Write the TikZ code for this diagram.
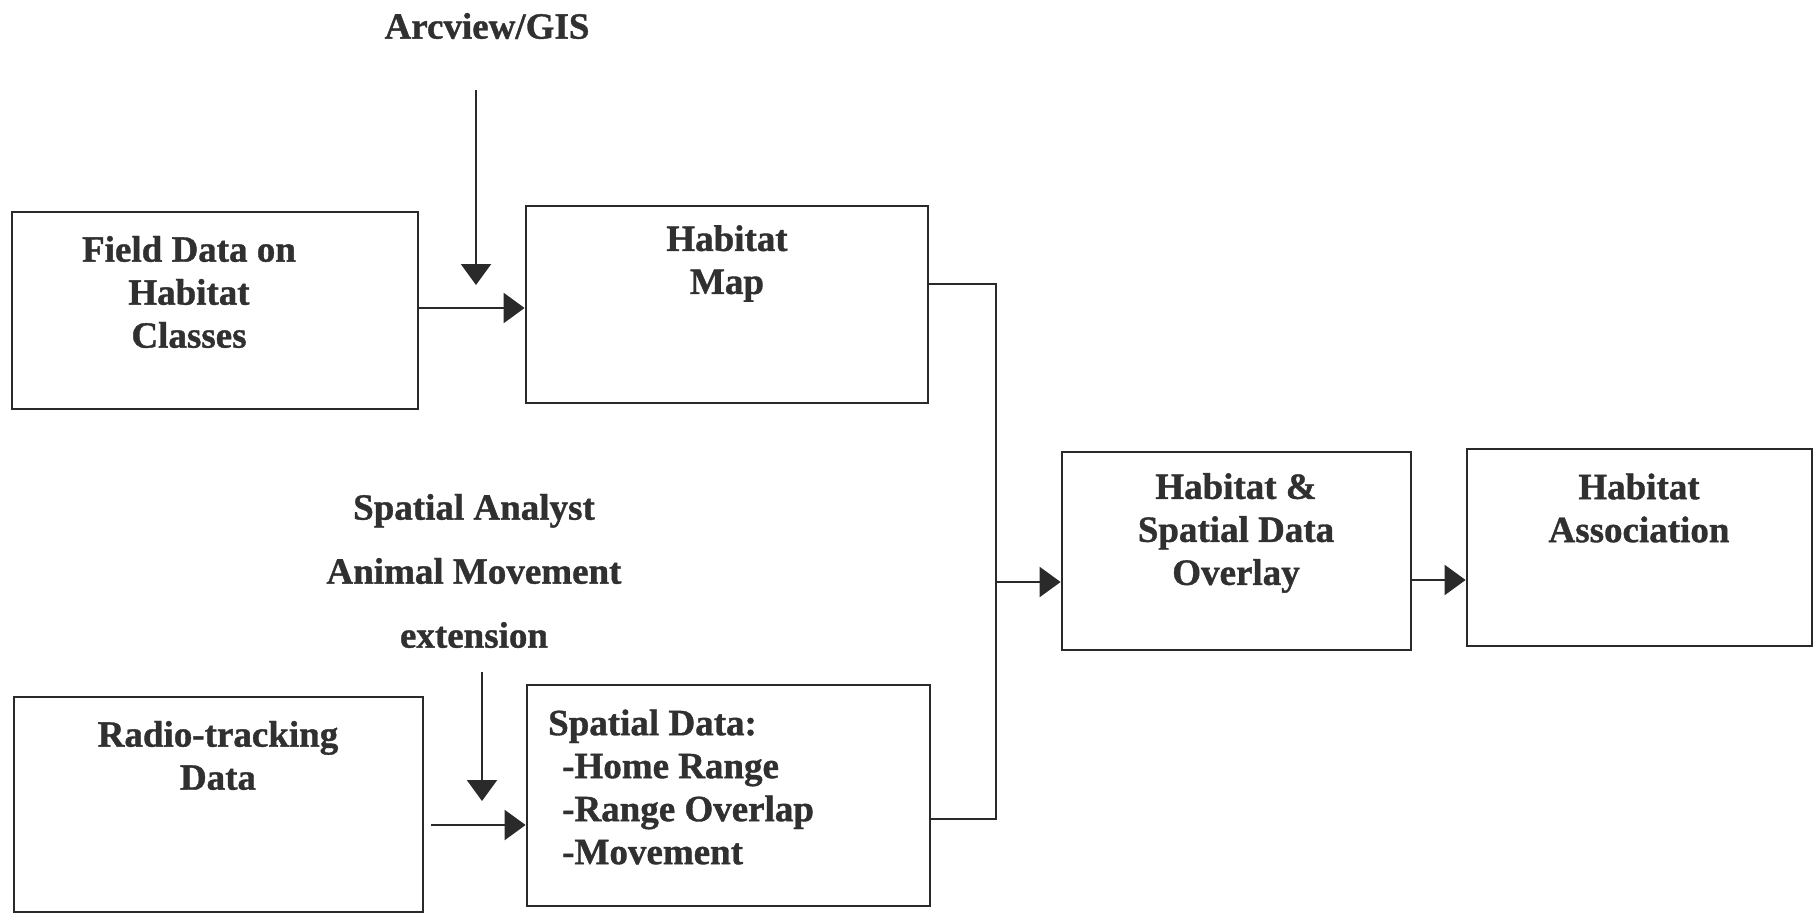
\documentclass[tikz,border=0pt]{standalone}
\usepackage{fontspec}
\setmainfont{Liberation Serif}[BoldFeatures={FakeBold=1}]
\usetikzlibrary{arrows.meta}
\definecolor{ink}{HTML}{2A2A2A}
\definecolor{txt}{HTML}{303030}
\begin{document}
\begin{tikzpicture}[x=1pt,y=-1pt,
  box/.style={draw=ink,line width=2.8pt,rectangle,inner sep=0pt},
  lbl/.style={text=txt,font=\fontsize{37}{43}\selectfont\bfseries,align=center,inner sep=0pt},
  conn/.style={draw=ink,line width=2.3pt},
  arr/.style={conn,-{Triangle[length=21pt,width=30pt]}}]
\useasboundingbox (0,0) rectangle (1818,915);
% boxes
\node[box,minimum width=406pt,minimum height=197pt] (b1) at (215,310.5) {};
\node[box,minimum width=402pt,minimum height=197pt] (b2) at (727,304.5) {};
\node[box,minimum width=409pt,minimum height=215pt] (b3) at (218.5,804.5) {};
\node[box,minimum width=403pt,minimum height=221pt] (b4) at (728.5,795.5) {};
\node[box,minimum width=349pt,minimum height=198pt] (b5) at (1236.5,551) {};
\node[box,minimum width=345pt,minimum height=197pt] (b6) at (1639.5,547.5) {};
% box texts
\node[lbl] (t1) at (189,292) {Field Data on\\Habitat\\Classes};
\node[lbl] (t2) at (727,263.5) {Habitat\\Map};
\node[lbl] (t3) at (218,755.5) {Radio-tracking\\Data};
\node[lbl,align=left,anchor=west] (t4) at (548,787) {Spatial Data:\\\hspace*{14pt}-Home Range\\\hspace*{14pt}-Range Overlap\\\hspace*{14pt}-Movement};
\node[lbl] (t5) at (1236,533) {Habitat \&\\Spatial Data\\Overlay};
\node[lbl] (t6) at (1639,508) {Habitat\\Association};
% tool labels
\node[lbl] (gis) at (487,26) {Arcview/GIS};
\node[lbl,font=\fontsize{37}{64}\selectfont\bfseries] (sa) at (474,571) {Spatial Analyst\\Animal Movement\\extension};
% connectors
\coordinate (g1) at (476,90);
\coordinate (g2) at (476,285);
\draw[arr] (g1) -- (g2);
\coordinate (s1) at (482,672);
\coordinate (s2) at (482,801);
\draw[arr] (s1) -- (s2);
\draw[arr] (b1.east |- 0,308) -- (b2.west |- 0,308);
\coordinate (r1) at (431,825);
\draw[arr] (r1) -- (b4.west |- r1);
\coordinate (tr) at (996,582);
\draw[conn] (b2.east |- 0,284) -| (tr);
\draw[conn] (b4.east |- 0,819) -| (tr);
\draw[arr] (tr) -- (b5.west |- tr);
\draw[arr] (b5.east |- 0,580) -- (b6.west |- 0,580);
\end{tikzpicture}
\end{document}
